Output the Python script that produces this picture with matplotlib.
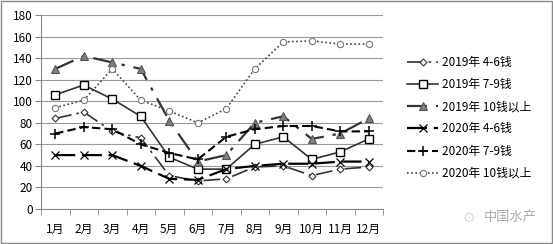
import matplotlib.pyplot as plt
import numpy as np

plt.rcParams['font.family'] = ['Noto Sans CJK SC', 'DejaVu Sans']

months = ['1月', '2月', '3月', '4月', '5月', '6月', '7月', '8月', '9月', '10月', '11月', '12月']

s19_46 = [84, 90, 72, 66, 31, 26, 28, 39, 40, 31, 37, 39]
s19_79 = [106, 115, 102, 86, 48, 37, 37, 60, 67, 46, 53, 65]
s19_10 = [130, 142, 136, 130, 82, 44, 50, 80, 86, 65, 70, 84]
s20_46 = [50, 50, 50, 40, 28, 27, 37, 40, 42, 42, 44, 44]
s20_79 = [70, 76, 74, 60, 52, 46, 67, 74, 77, 77, 72, 72]
s20_10 = [94, 101, 130, 101, 91, 80, 93, 130, 155, 156, 153, 153]

labels = ['2019年 4-6钱', '2019年 7-9钱', '2019年 10钱以上',
          '2020年 4-6钱', '2020年 7-9钱', '2020年 10钱以上']

fig = plt.figure(figsize=(5.53, 2.44), dpi=100)
ax = fig.add_axes([41 / 553, 35 / 244, 342 / 553, 194 / 244])

x = np.arange(len(months))
dark = '#333333'

ax.plot(x, s19_46, color=dark, lw=1.2, dashes=(10, 3, 1.5, 3), marker='D', ms=3.5,
        mfc='white', mec=dark, mew=0.8, label=labels[0])
ax.plot(x, s19_79, color=dark, lw=1.2, marker='s', ms=5.5,
        mfc='white', mec='black', mew=1.0, label=labels[1])
ax.plot(x, s19_10, color=dark, lw=1.6, dashes=(9, 4, 1.5, 4), marker='^', ms=5.5,
        mfc='#7f7f7f', mec='#555555', mew=0.8, label=labels[2])
ax.plot(x, s20_46, color='black', lw=1.6, dashes=(9, 3), marker='x', ms=6,
        mec='black', mew=0.9, label=labels[3])
ax.plot(x, s20_79, color='black', lw=1.5, dashes=(4, 2), marker='+', ms=7,
        mec='black', mew=1.1, label=labels[4])
ax.plot(x, s20_10, color='#444444', lw=1.2, dashes=(1, 1.5), marker='o', ms=4.5,
        mfc='white', mec='#777777', mew=0.8, label=labels[5])

ax.set_xlim(-0.5, 11.5)
ax.set_ylim(0, 180)
ax.set_yticks(range(0, 181, 20))
ax.set_xticks(x)
ax.set_xticklabels(months)
ax.set_xticks(np.arange(-0.5, 12, 1), minor=True)
ax.tick_params(axis='x', which='major', length=0, pad=10, labelsize=8.5)
ax.tick_params(axis='x', which='minor', length=4, direction='out', color='#888888')
ax.tick_params(axis='y', length=4, direction='out', color='#888888', labelsize=8.5, pad=2)
ax.grid(axis='y', color='#999999', lw=0.8)
ax.set_axisbelow(True)
for side in ['top', 'right']:
    ax.spines[side].set_visible(False)
ax.spines['left'].set_color('#888888')
ax.spines['bottom'].set_color('#888888')

ax.legend(loc='center left', bbox_to_anchor=(1.04, 0.47), frameon=False,
          fontsize=8.5, handlelength=2.6, labelspacing=0.78, handletextpad=0.3)

fig.text(0.922, 0.11, '中国水产', color='#aaaaaa', fontsize=9.5, ha='center', va='center')
fig.text(0.848, 0.11, '⊙', color='#cccccc', fontsize=9, ha='center', va='center')

fig.patches.append(plt.Rectangle((0.002, 0.004), 0.996, 0.992, transform=fig.transFigure,
                                 fill=False, ec='#888888', lw=1))

fig.savefig('out.png', dpi=100)
